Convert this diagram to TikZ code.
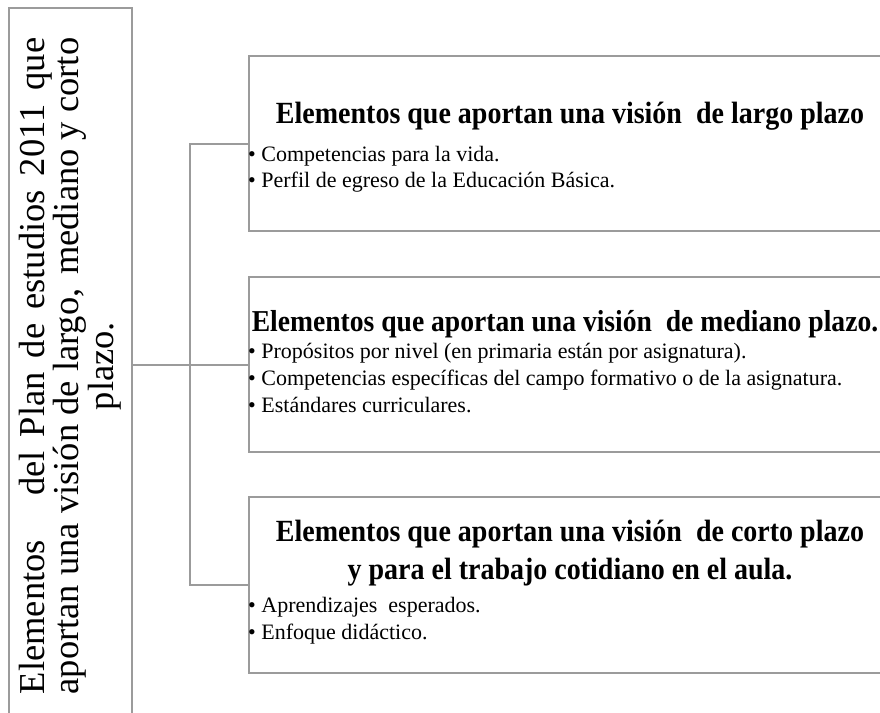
\documentclass[tikz,border=0pt]{standalone}
\usepackage{fontspec}
\setmainfont{Liberation Serif}
\definecolor{edge}{RGB}{155,155,155}
\newlength\mylw
\newcommand{\tall}[1]{\scalebox{1}[1.1]{#1}}
\begin{document}
\begin{tikzpicture}[x=1pt,y=-1pt,
  frame/.style={draw=edge, line width=2pt, inner sep=0pt, anchor=north west},
  conn/.style={draw=edge, line width=2pt},
  ttl/.style={font=\bfseries\fontsize{28}{30}\selectfont, anchor=base, inner sep=0pt},
  itm/.style={font=\fontsize{22}{26}\selectfont, anchor=base west, inner sep=0pt}]
\useasboundingbox (0,0) rectangle (880,712);
\fill[white] (0,0) rectangle (880,712);
\clip (0,0) rectangle (880,712);
% frames
\node[frame, minimum width=123pt, minimum height=730pt] (main) at (8,7) {};
\node[frame, minimum width=660pt, minimum height=175pt] (top) at (248,55) {};
\node[frame, minimum width=660pt, minimum height=175pt] (mid) at (248,276) {};
\node[frame, minimum width=660pt, minimum height=176pt] (bot) at (248,496) {};
% connectors
\coordinate (bus) at (190,0);
\draw[conn] (mid.west) -- (mid.west -| main.east);
\draw[conn] (top.west) -- (top.west -| bus) -- (bot.west -| bus) -- (bot.west);
% rotated main text
\node[rotate=90, inner sep=0pt] (maintext) at (70,366) {\fontsize{36.5}{34.5}\selectfont
  \settowidth{\mylw}{aportan una visión de largo,\hspace{0.12em} mediano y corto}%
  \parbox{\mylw}{\centering
    \makebox[\mylw][s]{Elementos\hspace{0.3em plus 0.5em} del Plan de estudios 2011 que}\\
    aportan una visión de largo,\hspace{0.12em} mediano y corto\\
    plazo.}};
% top box
\node[ttl] (t1) at (570,123) {\tall{Elementos que aportan una visión\ \ de largo plazo}};
\node[itm] (t1a) at (248,161) {•\ Competencias para la vida.};
\node[itm] (t1b) at (248,187) {•\ Perfil de egreso de la Educación Básica.};
% middle box
\node[ttl, font=\bfseries\fontsize{27.6}{30}\selectfont] (t2) at (565,331) {\tall{Elementos que aportan una visión\ \ de mediano plazo.}};
\node[itm] (t2a) at (248,358) {•\ Propósitos por nivel (en primaria están por asignatura).};
\node[itm] (t2b) at (248,385) {•\ Competencias específicas del campo formativo o de la asignatura.};
\node[itm] (t2c) at (248,412) {•\ Estándares curriculares.};
% bottom box
\node[ttl] (t3) at (570,541) {\tall{Elementos que aportan una visión\ \ de corto plazo}};
\node[ttl] (t3b) at (570,579) {\tall{y para el trabajo cotidiano en el aula.}};
\node[itm] (t3c) at (248,612) {•\ Aprendizajes\ \ esperados.};
\node[itm] (t3d) at (248,639) {•\ Enfoque didáctico.};
\end{tikzpicture}
\end{document}
